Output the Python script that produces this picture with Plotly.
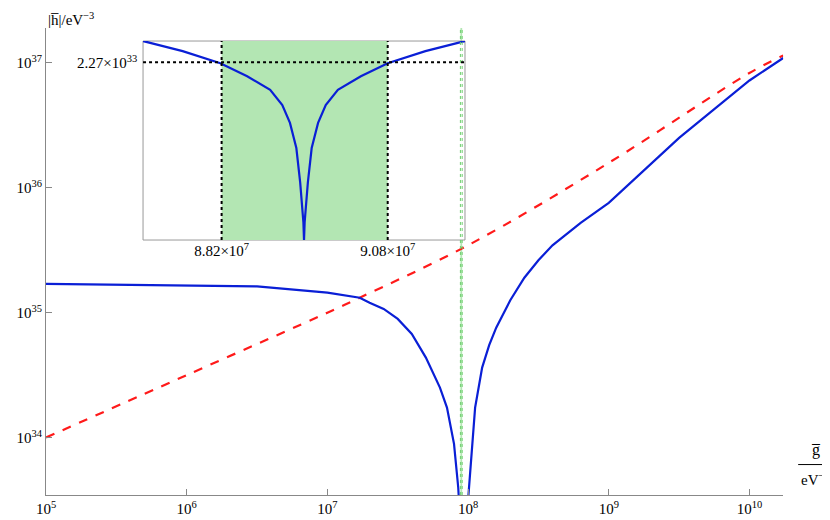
import plotly.graph_objects as go

# main plot (log10 values)
red_logx = [5.0, 6.0, 7.0, 7.23, 8.0, 9.0, 10.0, 10.24]
red_logy = [34.0, 34.5, 35.0, 35.12, 35.54, 36.2, 36.92, 37.06]

blue_logx = [5.0, 6.0, 6.5, 7.0, 7.23, 7.3, 7.4, 7.5, 7.6, 7.7, 7.8, 7.85, 7.9, 7.93, 7.945, 7.952,
             7.96, 8.0, 8.02, 8.05, 8.1, 8.15, 8.2, 8.3, 8.4, 8.5, 8.6, 8.8, 9.0, 9.25, 9.5, 9.75, 10.0, 10.24]
blue_logy = [35.23, 35.22, 35.21, 35.16, 35.12, 35.08, 35.03, 34.95, 34.83, 34.64, 34.4, 34.24, 33.95, 33.6, 33.3, 30.0,
             33.0, 33.5, 33.8, 34.24, 34.56, 34.74, 34.88, 35.1, 35.28, 35.42, 35.54, 35.72, 35.88, 36.14, 36.4, 36.63, 36.86, 37.04]

# inset, zoom around the zero
inset_x = [8.697e7, 8.759e7, 8.818e7, 8.860e7, 8.896e7, 8.915e7, 8.927e7, 8.937e7, 8.943e7, 8.948e7, 8.949e7,
           8.950e7, 8.955e7, 8.961e7, 8.971e7, 8.983e7, 9.002e7, 9.038e7, 9.080e7, 9.139e7, 9.201e7]
inset_logy = [33.65, 33.51, 33.34, 33.16, 32.97, 32.76, 32.51, 32.16, 31.68, 31.13, 30.88,
              31.13, 31.68, 32.16, 32.51, 32.76, 32.97, 33.16, 33.34, 33.51, 33.65]

band = [8.82e7, 9.08e7]
level = 2.27e33

FONT = "Liberation Serif"

fig = go.Figure()
fig.add_trace(go.Scatter(x=[10 ** v for v in red_logx], y=[10 ** v for v in red_logy],
                         mode="lines", line=dict(color="#ff1a1a", width=2.2, dash="dash", shape="spline")))
fig.add_trace(go.Scatter(x=[10 ** v for v in blue_logx], y=[10 ** v for v in blue_logy],
                         mode="lines", line=dict(color="#0a1fd6", width=2.2)))
fig.add_trace(go.Scatter(x=inset_x, y=[10 ** v for v in inset_logy], xaxis="x2", yaxis="y2",
                         mode="lines", line=dict(color="#0a1fd6", width=2.2)))

shapes = [
    dict(type="rect", xref="x", yref="paper", x0=band[0], x1=band[1], y0=0.0635, y1=0.9615,
         fillcolor="#b3e6b3", line_width=0, layer="below"),
    dict(type="line", xref="x", yref="paper", x0=band[0], x1=band[0], y0=0.0635, y1=0.9615,
         line=dict(color="#6ccf6c", width=1, dash="dot")),
    dict(type="line", xref="x", yref="paper", x0=band[1], x1=band[1], y0=0.0635, y1=0.9615,
         line=dict(color="#6ccf6c", width=1, dash="dot")),
    dict(type="rect", xref="paper", yref="paper", x0=0.1627, x1=0.5506, y0=0.5538, y1=0.9365,
         fillcolor="white", line=dict(color="#999", width=1), layer="below"),
    dict(type="rect", xref="x2", yref="paper", x0=band[0], x1=band[1], y0=0.5538, y1=0.9365,
         fillcolor="#b3e6b3", line_width=0, layer="below"),
    dict(type="line", xref="x2", yref="paper", x0=band[0], x1=band[0], y0=0.5538, y1=0.9365,
         line=dict(color="black", width=2, dash="dot")),
    dict(type="line", xref="x2", yref="paper", x0=band[1], x1=band[1], y0=0.5538, y1=0.9365,
         line=dict(color="black", width=2, dash="dot")),
    dict(type="line", xref="paper", yref="y2", x0=0.1627, x1=0.5506, y0=level, y1=level,
         line=dict(color="black", width=2, dash="dot")),
    dict(type="line", xref="paper", yref="paper", x0=0.952, x1=0.995, y0=0.122, y1=0.122,
         line=dict(color="black", width=1)),
]

annotations = [
    dict(text="|h̅|/eV<sup>−3</sup>", xref="paper", yref="paper", x=0.046, y=1.0,
         xanchor="left", yanchor="top", showarrow=False, font=dict(size=15)),
    dict(text="g̅", xref="paper", yref="paper", x=0.973, y=0.128,
         xanchor="center", yanchor="bottom", showarrow=False, font=dict(size=16)),
    dict(text="eV<sup>−4</sup>", xref="paper", yref="paper", x=0.973, y=0.116,
         xanchor="center", yanchor="top", showarrow=False, font=dict(size=15)),
    dict(text="2.27×10<sup>33</sup>", xref="paper", yref="y2", x=0.158, y=33.356,
         xanchor="right", yanchor="middle", showarrow=False, font=dict(size=15)),
]

ticks = [1e34, 1e35, 1e36, 1e37]
xticks = [1e5, 1e6, 1e7, 1e8, 1e9, 1e10]

fig.update_layout(
    width=830, height=520, margin=dict(l=0, r=0, t=0, b=0),
    paper_bgcolor="white", plot_bgcolor="rgba(0,0,0,0)", showlegend=False,
    font=dict(family=FONT, size=15, color="black"),
    shapes=shapes, annotations=annotations,
    xaxis=dict(type="log", range=[5, 10.24], domain=[0.0458, 0.934], automargin=False,
               showgrid=False, zeroline=False, showline=True, linecolor="#888", linewidth=1,
               ticks="inside", ticklen=6, tickcolor="#888",
               tickvals=xticks, ticktext=["10<sup>%d</sup>" % i for i in range(5, 11)]),
    yaxis=dict(type="log", range=[33.54, 37.28], domain=[0.0635, 0.9615], automargin=False,
               showgrid=False, zeroline=False, showline=True, linecolor="#888", linewidth=1,
               ticks="inside", ticklen=6, tickcolor="#888",
               tickvals=ticks, ticktext=["10<sup>%d</sup>" % i for i in range(34, 38)]),
    xaxis2=dict(range=[8.697e7, 9.201e7], domain=[0.1627, 0.5506], anchor="y2", automargin=False,
                showgrid=False, zeroline=False, showline=False, ticks="",
                tickvals=band, ticktext=["8.82×10<sup>7</sup>", "9.08×10<sup>7</sup>"]),
    yaxis2=dict(type="log", range=[30.88, 33.65], domain=[0.5538, 0.9365], anchor="x2", automargin=False,
                showgrid=False, zeroline=False, showline=False, showticklabels=False, ticks=""),
)

fig.write_html("out.html")
